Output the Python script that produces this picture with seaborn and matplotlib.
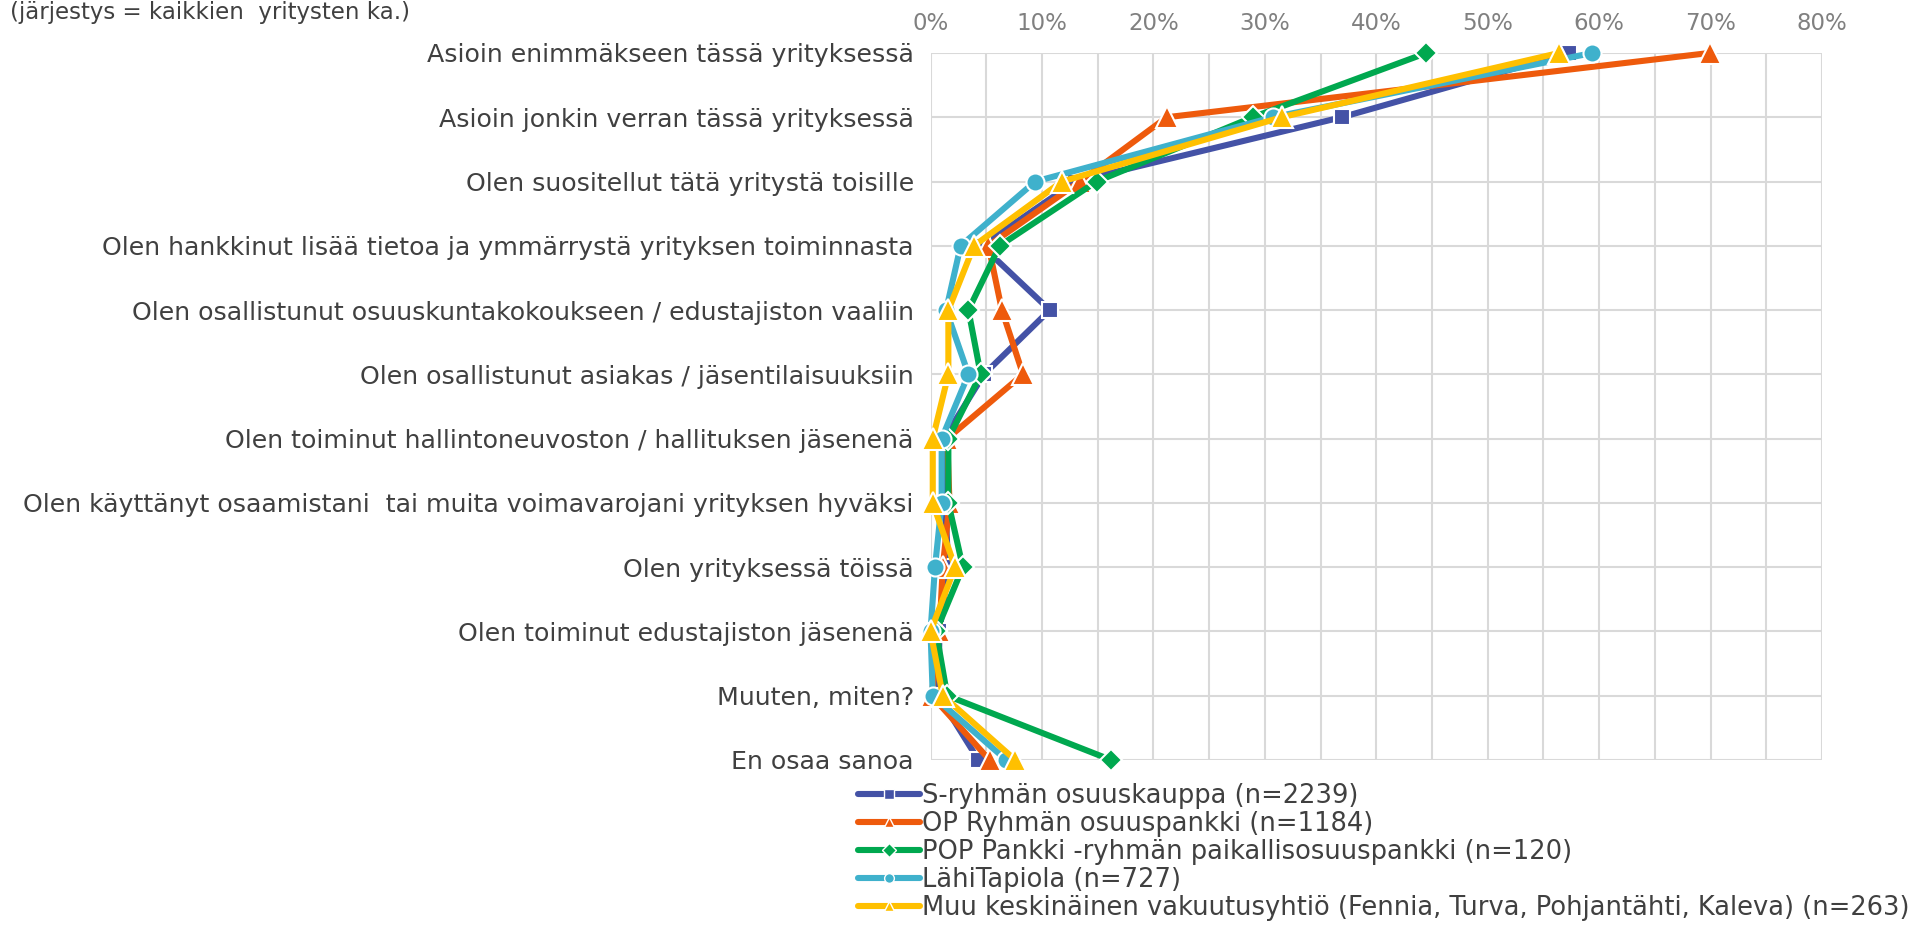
import numpy as np
import pandas as pd
import matplotlib
matplotlib.use("Agg")
import matplotlib.pyplot as plt
from matplotlib.lines import Line2D
from matplotlib.ticker import MultipleLocator, FuncFormatter
import seaborn as sns

# Survey answers (shown top to bottom)
categories = [
    "Asioin enimmäkseen tässä yrityksessä",
    "Asioin jonkin verran tässä yrityksessä",
    "Olen suositellut tätä yritystä toisille",
    "Olen hankkinut lisää tietoa ja ymmärrystä yrityksen toiminnasta",
    "Olen osallistunut osuuskuntakokoukseen / edustajiston vaaliin",
    "Olen osallistunut asiakas / jäsentilaisuuksiin",
    "Olen toiminut hallintoneuvoston / hallituksen jäsenenä",
    "Olen käyttänyt osaamistani  tai muita voimavarojani yrityksen hyväksi",
    "Olen yrityksessä töissä",
    "Olen toiminut edustajiston jäsenenä",
    "Muuten, miten?",
    "En osaa sanoa",
]

# Share of respondents (%) per company group
s_ryhma = [57.3, 36.9, 13.0, 4.6, 10.7, 4.8, 1.2, 1.3, 1.6, 0.8, 0.7, 4.3]
op_ryhma = [69.9, 21.2, 13.4, 5.2, 6.4, 8.3, 1.5, 1.7, 1.1, 0.8, 0.1, 5.3]
pop_pankki = [44.5, 28.9, 14.9, 6.2, 3.4, 4.5, 1.6, 1.6, 2.9, 0.5, 1.5, 16.2]
lahitapiola = [59.4, 30.7, 9.4, 2.7, 1.4, 3.4, 1.0, 1.0, 0.4, 0.0, 0.2, 6.8]
muu_keskinainen = [56.4, 31.5, 11.8, 3.9, 1.6, 1.6, 0.2, 0.2, 2.2, 0.0, 1.1, 7.6]

series_names = [
    "S-ryhmän osuuskauppa (n=2239)",
    "OP Ryhmän osuuspankki (n=1184)",
    "POP Pankki -ryhmän paikallisosuuspankki (n=120)",
    "LähiTapiola (n=727)",
    "Muu keskinäinen vakuutusyhtiö (Fennia, Turva, Pohjantähti, Kaleva) (n=263)",
]
series_values = [s_ryhma, op_ryhma, pop_pankki, lahitapiola, muu_keskinainen]

title_text = "(järjestys = kaikkien  yritysten ka.)"

colors = ["#4452A6", "#EE5A0C", "#00A84F", "#3FB1CC", "#FFC000"]
markers = ["s", "^", "D", "o", "^"]
marker_sizes = [12, 16, 11, 13, 16]

sns.set_theme(style="white")
plt.rcParams["font.family"] = ["DejaVu Sans"]

fig = plt.figure(figsize=(19.21, 9.26), dpi=100)
ax = fig.add_axes([0.4844, 0.1793, 0.9485 - 0.4844, 0.9428 - 0.1793])

pos = np.arange(len(categories))
frames = []
for name, vals in zip(series_names, series_values):
    frames.append(pd.DataFrame({"series": name, "category": categories,
                                "pos": pos, "value": vals}))
df = pd.concat(frames, ignore_index=True)

for name, col, mk, ms in zip(series_names, colors, markers, marker_sizes):
    sub = df[df["series"] == name]
    sns.lineplot(data=sub, x="value", y="pos", sort=False, orient="y",
                 color=col, linewidth=4.4, marker=mk, markersize=ms,
                 markeredgecolor="white", markeredgewidth=1.5,
                 ax=ax, legend=False, clip_on=False, zorder=3)

ax.set_xlim(0, 80)
ax.set_ylim(len(categories) - 1, 0)
ax.xaxis.set_major_locator(MultipleLocator(10))
ax.xaxis.set_minor_locator(MultipleLocator(5))
ax.xaxis.set_major_formatter(FuncFormatter(lambda v, p: f"{v:.0f}%"))
ax.xaxis.tick_top()
ax.set_yticks(pos)
ax.set_yticklabels(categories)
ax.set_xlabel("")
ax.set_ylabel("")

ax.grid(True, which="both", axis="x", color="#D9D9D9", linewidth=1.5, zorder=0)
ax.grid(True, which="major", axis="y", color="#D9D9D9", linewidth=1.5, zorder=0)
ax.set_axisbelow(True)
for sp in ax.spines.values():
    sp.set_visible(False)

ax.tick_params(axis="x", which="both", length=0, pad=13, labelsize=16.5,
               labelcolor="#808080")
ax.tick_params(axis="y", length=0, pad=12, labelsize=18.2, labelcolor="#404040")

fig.text(0.0052, 1 - 12 / 926, title_text, fontsize=16.5, color="#404040",
         ha="left", va="center")

handles = [Line2D([0], [0], color=c, linewidth=4.4, marker=m, markersize=7,
                  markeredgecolor="white", markeredgewidth=1.0)
           for c, m in zip(colors, markers)]
fig.legend(handles, series_names, loc="upper left",
           bbox_to_anchor=(858 / 1921, 1 - 783 / 926), frameon=False,
           fontsize=18.5, labelcolor="#404040", handlelength=2.4,
           handletextpad=0.08, labelspacing=0.08, borderpad=0,
           borderaxespad=0)

fig.savefig("out.png", dpi=100, facecolor="white")
